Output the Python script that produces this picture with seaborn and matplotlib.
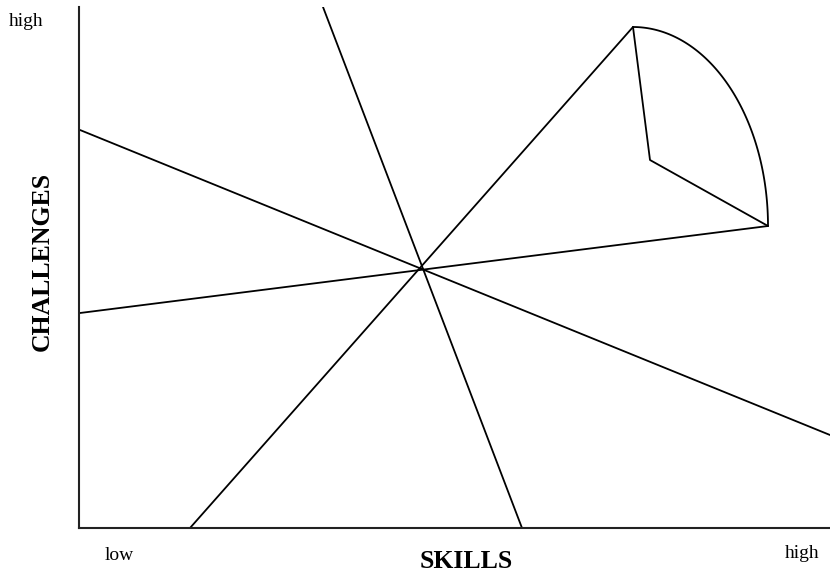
import numpy as np
import matplotlib.pyplot as plt
import seaborn as sns

sns.set_style("white")
plt.rcParams['font.family'] = ['Liberation Serif', 'DejaVu Serif']
plt.rcParams['text.color'] = 'black'

# line segments (x0, y0, x1, y1) in axis units: x = skills, y = challenges
seg_x0 = [244, 1, 1, 111]
seg_y0 = [521, 398, 215, 0]
seg_x1 = [443, 751, 689, 554]
seg_y1 = [0, 93, 302, 501]

# fan: inner corner and the two outer corners joined by a curved edge
fan_apex = (571, 368)
fan_a = (554, 501)
fan_b = (689, 302)

fig = plt.figure(figsize=(8.3, 5.72), dpi=100)
ax = fig.add_axes([79 / 830, 44 / 572, 751 / 830, 521 / 572])
ax.set_xlim(0, 751)
ax.set_ylim(0, 521)

for x0, y0, x1, y1 in zip(seg_x0, seg_y0, seg_x1, seg_y1):
    sns.lineplot(x=[x0, x1], y=[y0, y1], ax=ax, color='black', lw=1.3,
                 sort=False, estimator=None)

# fan edges
ax.plot([fan_a[0], fan_apex[0], fan_b[0]], [fan_a[1], fan_apex[1], fan_b[1]],
        color='black', lw=1.3)
# curved edge: quarter ellipse, horizontal at the top, vertical at the right end
cx, cy = fan_a[0], fan_b[1]
rx, ry = fan_b[0] - cx, fan_a[1] - cy
t = np.linspace(np.pi / 2, 0, 100)
ax.plot(cx + rx * np.cos(t), cy + ry * np.sin(t), color='black', lw=1.3)

sns.despine(ax=ax)
for s in ['left', 'bottom']:
    ax.spines[s].set_linewidth(1.5)
    ax.spines[s].set_color('#222222')
ax.set_xticks([])
ax.set_yticks([])

fig.text(26 / 830, 1 - 22 / 572, 'high', ha='center', va='center', fontsize=14)
fig.text(119 / 830, 1 - 556 / 572, 'low', ha='center', va='center', fontsize=14)
fig.text(802 / 830, 1 - 554 / 572, 'high', ha='center', va='center', fontsize=14)
fig.text(466 / 830, 1 - 561 / 572, 'SKILLS', ha='center', va='center',
         fontsize=18.5, fontweight='bold')
fig.text(42 / 830, 1 - 261 / 572, 'CHALLENGES', ha='center', va='center',
         fontsize=18.5, fontweight='bold', rotation=90)

fig.savefig('out.png', dpi=100)
